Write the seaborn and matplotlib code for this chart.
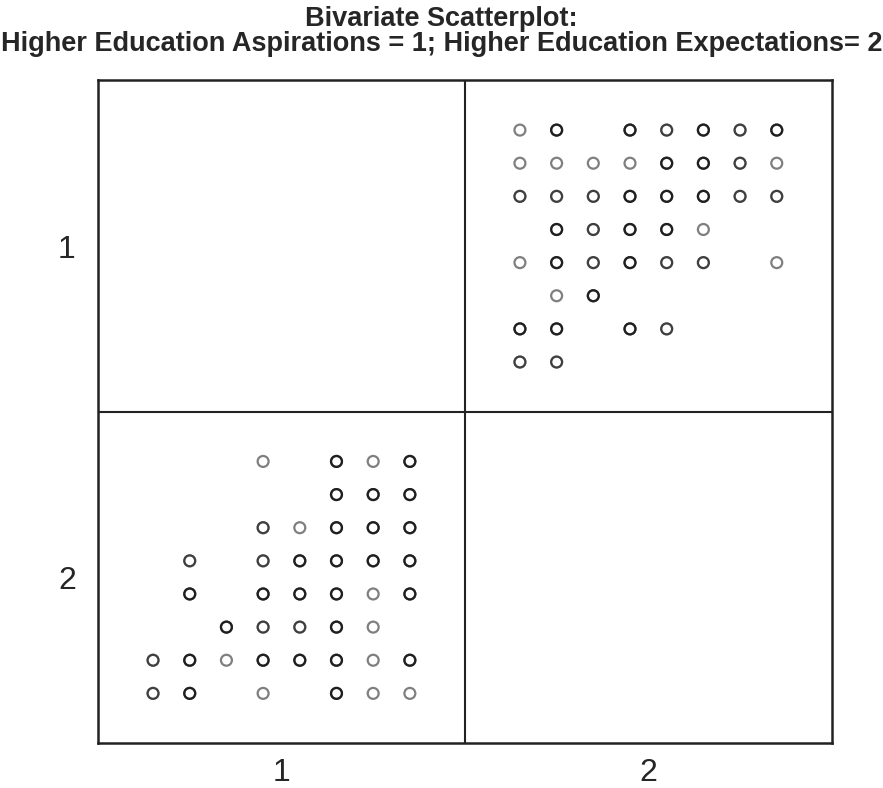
import numpy as np
import pandas as pd
import seaborn as sns
import matplotlib.pyplot as plt

# category levels on each axis
levels = [1, 2]
# sub-positions used to spread the overlapping cases inside a cell
sub_levels = [-0.35, -0.25, -0.15, -0.05, 0.05, 0.15, 0.25, 0.35]

# number of overplotted cases per sub-position (rows top->bottom, cols left->right)
# cell: aspirations (x) = 2, expectations (y) = 1
counts_x2_y1 = [
    [1, 3, 0, 3, 2, 3, 2, 3],
    [1, 1, 1, 1, 3, 3, 2, 1],
    [2, 2, 2, 3, 3, 3, 2, 2],
    [0, 3, 2, 3, 3, 1, 0, 0],
    [1, 3, 2, 3, 2, 2, 0, 1],
    [0, 1, 3, 0, 0, 0, 0, 0],
    [3, 3, 0, 3, 2, 0, 0, 0],
    [2, 2, 0, 0, 0, 0, 0, 0],
]
# cell: aspirations (x) = 1, expectations (y) = 2
counts_x1_y2 = [
    [0, 0, 0, 1, 0, 3, 1, 3],
    [0, 0, 0, 0, 0, 3, 3, 3],
    [0, 0, 0, 2, 1, 3, 3, 3],
    [0, 2, 0, 2, 3, 3, 3, 3],
    [0, 3, 0, 3, 3, 3, 1, 3],
    [0, 0, 3, 2, 2, 3, 1, 0],
    [2, 3, 1, 3, 3, 3, 1, 3],
    [2, 3, 0, 1, 0, 3, 1, 1],
]


def cell_points(counts, xv, yv):
    rows = []
    for r, line in enumerate(counts):
        for c, n in enumerate(line):
            for _ in range(n):
                rows.append((xv + sub_levels[c], yv + sub_levels[r]))
    return rows


pts = cell_points(counts_x2_y1, 2, 1) + cell_points(counts_x1_y2, 1, 2)
df = pd.DataFrame(pts, columns=["x", "y"])

sns.set_style("white")
plt.rcParams['font.family'] = ['Liberation Sans', 'DejaVu Sans']

fig = plt.figure(figsize=(8.83, 7.88), dpi=100)
ax = fig.add_axes([0.111, 0.057, 0.831, 0.841])

sns.scatterplot(data=df, x="x", y="y", ax=ax, s=62, marker="o",
                facecolor="none", edgecolor="black", linewidth=1.6,
                alpha=0.5, legend=False)

ax.set_xlim(0.5, 2.5)
ax.set_ylim(2.5, 0.5)
ax.axvline(1.5, color="#222222", lw=1.5)
ax.axhline(1.5, color="#222222", lw=1.5)
for sp in ax.spines.values():
    sp.set_color("#222222")
    sp.set_linewidth(1.8)

ax.set_xticks(levels)
ax.set_yticks(levels)
ax.set_xticklabels([str(v) for v in levels], fontsize=23)
ax.set_yticklabels([str(v) for v in levels], fontsize=23)
ax.tick_params(axis="x", length=0, pad=11)
ax.tick_params(axis="y", length=0, pad=16)
ax.set_xlabel("")
ax.set_ylabel("")

fig.suptitle("Bivariate Scatterplot:\nHigher Education Aspirations = 1; Higher Education Expectations= 2",
             fontsize=19.5, fontweight="bold", y=0.992, linespacing=0.95)

plt.savefig("out.png", dpi=100)
